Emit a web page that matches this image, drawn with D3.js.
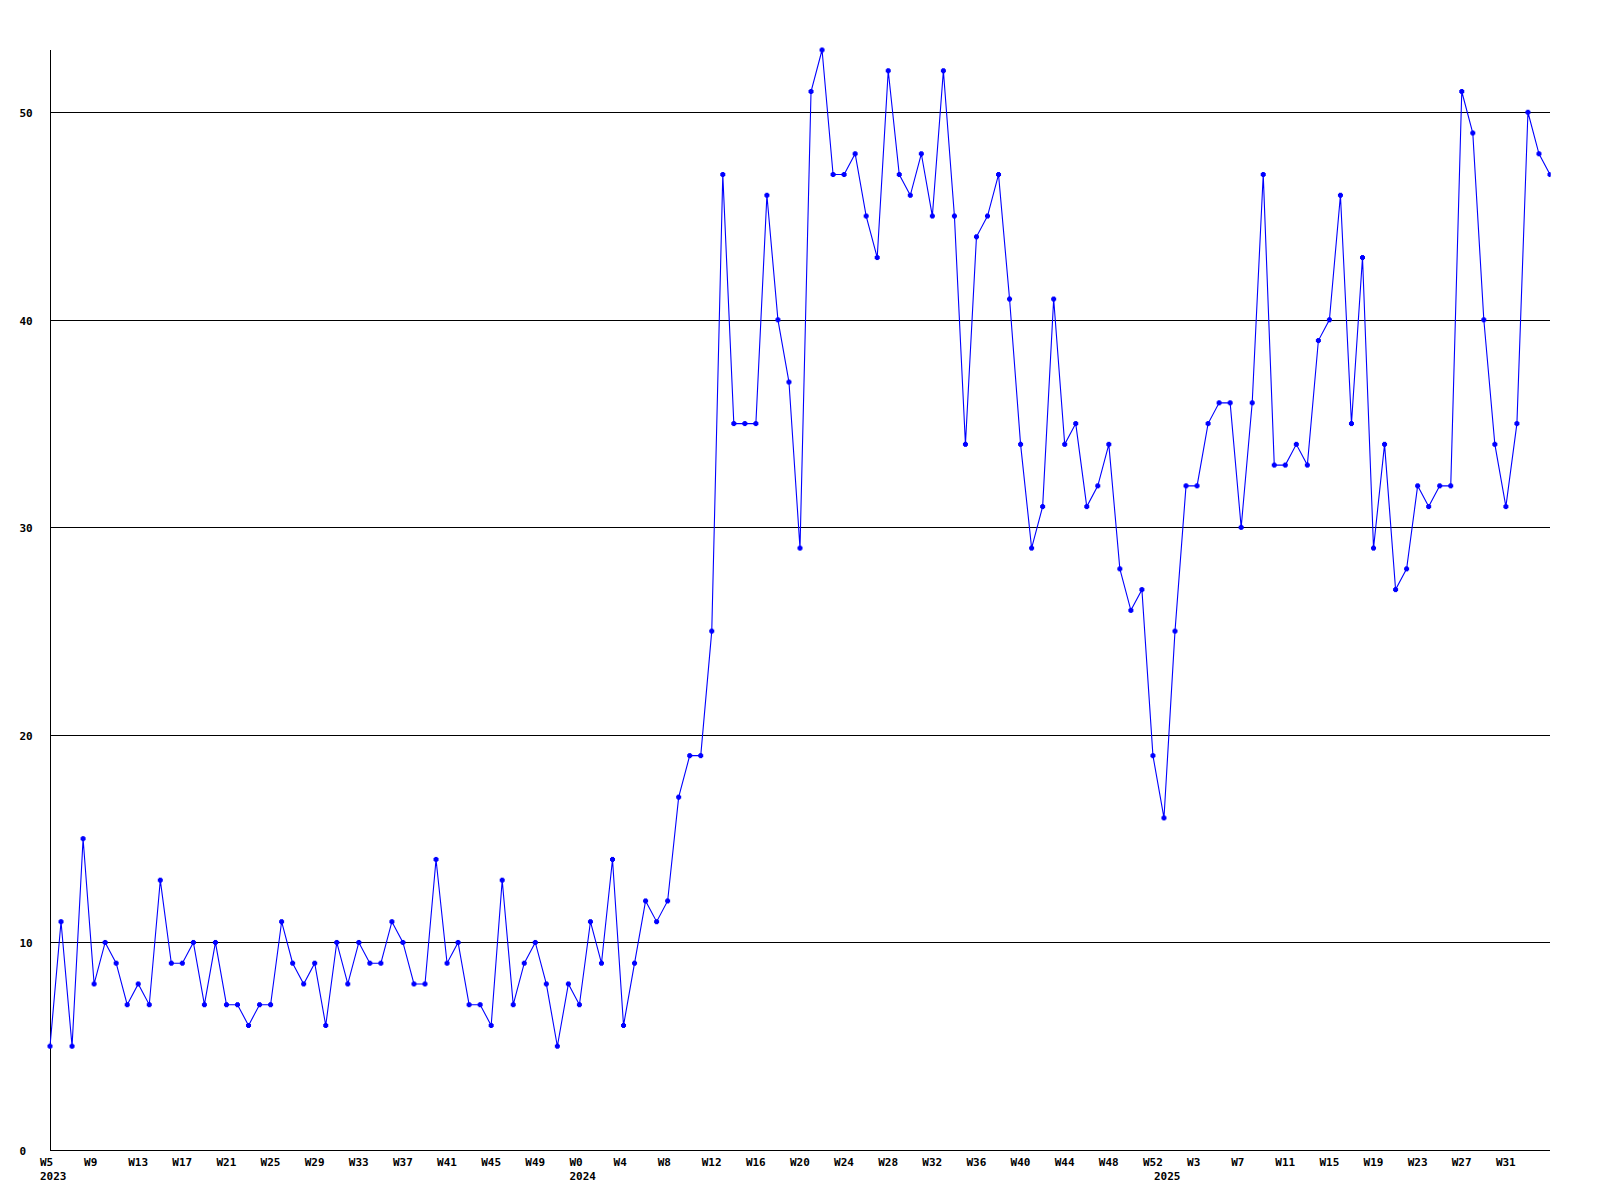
<!DOCTYPE html>
<html>
<head>
<meta charset="utf-8">
<script src="https://d3js.org/d3.v7.min.js"></script>
<style>
  html, body { margin: 0; padding: 0; background: #ffffff; }
  svg { display: block; }
  text { font-family: "DejaVu Sans Mono", "Liberation Mono", monospace; font-weight: bold; font-size: 11px; fill: #000; }
</style>
</head>
<body>
<script>
// Weekly values, 2023 W5 .. 2025 W35 (137 points)
const values = [
  5,11,5,15,8,10,9,7,8,7,13,9,9,10,7,10,7,7,6,7,7,11,9,8,9,6,10,8,10,9,9,11,10,8,8,14,9,10,7,7,6,13,7,9,10,
  8,5,8,7,11,9,14,6,9,12,11,12,17,
  19,19,25,47,35,35,35,46,40,37,29,51,53,47,47,48,45,43,52,47,46,48,45,52,45,34,44,45,47,41,
  34,29,31,41,34,35,31,32,34,28,26,27,19,16,25,32,32,35,36,36,30,36,47,33,33,34,33,39,40,46,
  35,43,29,34,27,28,32,31,32,32,51,49,40,34,31,35,50,48,47
];

// Tick labels, one every 4th week (starting with the first point)
const tickLabels = [
  "W5","W9","W13","W17","W21","W25","W29","W33","W37","W41","W45","W49",
  "W0","W4","W8","W12","W16","W20","W24","W28","W32","W36","W40","W44","W48","W52",
  "W3","W7","W11","W15","W19","W23","W27","W31"
];
const tickStep = 4;

// Year labels and the point index where each year begins
const yearLabels = ["2023", "2024", "2025"];
const yearStartIndex = [0, 48, 101];

const yTicks = [0, 10, 20, 30, 40, 50];
const yMax = 53;

const W = 1600, H = 1200;
const mLeft = 50, mRight = 1550, mTop = 50, mBottom = 1150;

const svg = d3.select("body").append("svg")
  .attr("width", W).attr("height", H);

const x = d3.scaleLinear().domain([0, values.length - 1]).range([mLeft, mRight]);
const y = d3.scaleLinear().domain([0, yMax]).range([mBottom, mTop]);

// gridlines
svg.append("g").selectAll("line")
  .data(yTicks.filter(d => d > 0))
  .join("line")
  .attr("x1", mLeft).attr("x2", mRight)
  .attr("y1", d => Math.round(y(d)) + 0.5).attr("y2", d => Math.round(y(d)) + 0.5)
  .attr("stroke", "#000").attr("stroke-width", 1)
  .attr("shape-rendering", "crispEdges");

// y labels
svg.append("g").selectAll("text")
  .data(yTicks)
  .join("text")
  .attr("x", 19.5)
  .attr("y", d => Math.round(y(d)) + 4.5)
  .text(d => d);

// axes lines
svg.append("line")
  .attr("x1", mLeft + 0.5).attr("x2", mLeft + 0.5)
  .attr("y1", mTop).attr("y2", mBottom + 0.5)
  .attr("stroke", "#000").attr("shape-rendering", "crispEdges");
svg.append("line")
  .attr("x1", mLeft).attr("x2", mRight)
  .attr("y1", mBottom + 0.5).attr("y2", mBottom + 0.5)
  .attr("stroke", "#000").attr("shape-rendering", "crispEdges");

// x tick labels
svg.append("g").selectAll("text")
  .data(tickLabels)
  .join("text")
  .attr("x", (d, i) => x(i * tickStep) - 10)
  .attr("y", 1166)
  .text(d => d);

// year labels
svg.append("g").selectAll("text")
  .data(yearLabels)
  .join("text")
  .attr("x", (d, i) => x(yearStartIndex[i]) - 10)
  .attr("y", 1180)
  .text(d => d);

// clip
svg.append("defs").append("clipPath").attr("id", "plotclip")
  .append("rect").attr("x", 0).attr("y", 0).attr("width", mRight + 0.5).attr("height", H);

const plot = svg.append("g").attr("clip-path", "url(#plotclip)");

const line = d3.line()
  .x((d, i) => x(i))
  .y(d => y(d));

plot.append("path")
  .datum(values)
  .attr("d", line)
  .attr("fill", "none")
  .attr("stroke", "#0000ff")
  .attr("stroke-width", 1.1);

// markers: small plus-shaped blobs
const mk = plot.append("g").attr("fill", "#0000ff");
mk.selectAll("rect.v")
  .data(values)
  .join("rect").attr("class", "v")
  .attr("x", (d, i) => x(i) - 1.5).attr("y", d => y(d) - 2.5)
  .attr("width", 3).attr("height", 5);
mk.selectAll("rect.h")
  .data(values)
  .join("rect").attr("class", "h")
  .attr("x", (d, i) => x(i) - 2.5).attr("y", d => y(d) - 1.5)
  .attr("width", 5).attr("height", 3);
</script>
</body>
</html>
